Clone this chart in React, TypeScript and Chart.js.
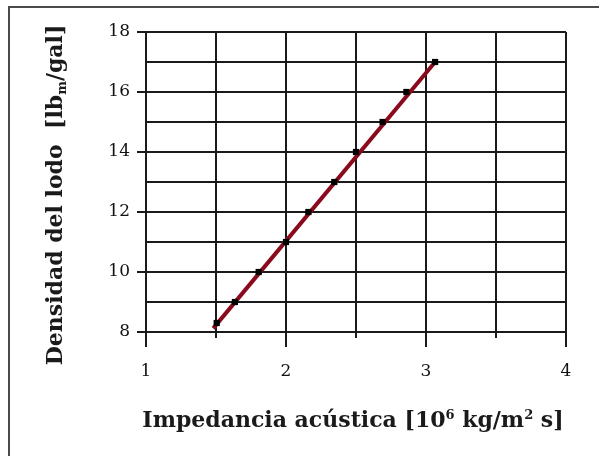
import React, { useEffect, useRef } from "react";
import { Chart, registerables } from "chart.js";

Chart.register(...registerables);

// Data
const impedance = [1.505, 1.635, 1.805, 2.0, 2.16, 2.345, 2.5, 2.69, 2.86, 3.065];
const density = [8.3, 9.0, 10.0, 11.0, 12.0, 13.0, 14.0, 15.0, 16.0, 17.0];
const fitImpedance = [1.48, 3.065];
const fitDensity = [8.12, 17.0];

const xMin = 1;
const xMax = 4;
const xStep = 0.5;
const yMin = 8;
const yMax = 18;
const yStep = 1;

const xTitleParts = [
  { t: "Impedancia acústica [10", sup: false },
  { t: "6", sup: true },
  { t: " kg/m", sup: false },
  { t: "2", sup: true },
  { t: " s]", sup: false },
];
const yTitleParts = [
  { t: "Densidad del lodo  [lb", sub: false },
  { t: "m", sub: true },
  { t: "/gal]", sub: false },
];

const GRID = "#1a1a1a";
const TITLE_FONT = "bold 22px 'DejaVu Serif'";
const SMALL_FONT = "bold 13px 'DejaVu Serif'";

const decorPlugin = {
  id: "decor",
  beforeDraw(chart: any) {
    const ctx = chart.ctx;
    ctx.save();
    ctx.fillStyle = "#ffffff";
    ctx.fillRect(0, 0, chart.width, chart.height);
    ctx.strokeStyle = "#4a4a4a";
    ctx.lineWidth = 2;
    ctx.strokeRect(9, 7, chart.width + 50, chart.height + 50);
    ctx.restore();
  },
  afterDraw(chart: any) {
    const ctx = chart.ctx;
    const xs = chart.scales.x;
    const area = chart.chartArea;
    ctx.save();
    // minor ticks on x axis
    ctx.strokeStyle = GRID;
    ctx.lineWidth = 2;
    xs.ticks.forEach((tk: any) => {
      if (!Number.isInteger(tk.value)) {
        const px = Math.round(xs.getPixelForValue(tk.value));
        ctx.beginPath();
        ctx.moveTo(px, area.bottom);
        ctx.lineTo(px, area.bottom + 6);
        ctx.stroke();
      }
    });
    // x title
    ctx.fillStyle = "#1a1a1a";
    ctx.textBaseline = "alphabetic";
    const widthOf = (p: any) => {
      ctx.font = p.sup || p.sub ? SMALL_FONT : TITLE_FONT;
      return ctx.measureText(p.t).width;
    };
    let total = xTitleParts.reduce((s, p) => s + widthOf(p), 0);
    let cx = 353 - total / 2;
    const baseY = 427;
    xTitleParts.forEach((p) => {
      ctx.font = p.sup ? SMALL_FONT : TITLE_FONT;
      ctx.fillText(p.t, cx, p.sup ? baseY - 8 : baseY);
      cx += ctx.measureText(p.t).width;
    });
    // y title (rotated)
    total = yTitleParts.reduce((s, p) => s + widthOf(p), 0);
    ctx.translate(62, 195);
    ctx.rotate(-Math.PI / 2);
    let tx = -total / 2;
    yTitleParts.forEach((p) => {
      ctx.font = p.sub ? SMALL_FONT : TITLE_FONT;
      ctx.fillText(p.t, tx, p.sub ? 4 : 0);
      tx += ctx.measureText(p.t).width;
    });
    ctx.restore();
  },
};

export default function App() {
  const ref = useRef<HTMLCanvasElement>(null);

  useEffect(() => {
    if (!ref.current) return;
    const points = impedance.map((x, i) => ({ x, y: density[i] }));
    const fit = fitImpedance.map((x, i) => ({ x, y: fitDensity[i] }));
    const chart = new Chart(ref.current, {
      type: "scatter",
      data: {
        datasets: [
          {
            data: points,
            order: 0,
            pointStyle: "rect",
            pointRadius: 4.4,
            pointBackgroundColor: "#000000",
            pointBorderColor: "#000000",
            pointBorderWidth: 0,
            showLine: false,
          },
          {
            data: fit,
            order: 1,
            showLine: true,
            borderColor: "#8A0A1C",
            borderWidth: 4,
            pointRadius: 0,
            fill: false,
          },
        ],
      },
      options: {
        responsive: false,
        animation: false,
        events: [],
        layout: { padding: { left: 0, right: 33, top: 32, bottom: 0 } },
        plugins: { legend: { display: false }, tooltip: { enabled: false } },
        scales: {
          x: {
            type: "linear",
            min: xMin,
            max: xMax,
            afterFit: (s: any) => {
              s.height = 124;
            },
            ticks: {
              stepSize: xStep,
              autoSkip: false,
              maxRotation: 0,
              padding: 14,
              color: "#111111",
              font: { family: "'DejaVu Serif'", size: 17 },
              callback: (v: any) => (Number.isInteger(v) ? String(v) : ""),
            },
            grid: {
              color: GRID,
              lineWidth: 2,
              tickLength: 15,
              tickColor: (c: any) =>
                c.tick && Number.isInteger(c.tick.value) ? GRID : "rgba(0,0,0,0)",
            },
            border: { display: true, color: GRID, width: 2 },
          },
          y: {
            type: "linear",
            min: yMin,
            max: yMax,
            afterFit: (s: any) => {
              s.width = 146;
            },
            ticks: {
              stepSize: yStep,
              autoSkip: false,
              padding: 7,
              color: "#111111",
              font: { family: "'DejaVu Serif'", size: 17 },
              callback: (v: any) => (v % 2 === 0 ? String(v) : ""),
            },
            grid: {
              color: GRID,
              lineWidth: 2,
              tickLength: 9,
              tickColor: (c: any) =>
                c.tick && c.tick.value % 2 === 0 ? GRID : "rgba(0,0,0,0)",
            },
            border: { display: true, color: GRID, width: 2 },
          },
        },
      },
      plugins: [decorPlugin],
    });
    return () => chart.destroy();
  }, []);

  return (
    <div style={{ position: "fixed", left: 0, top: 0, width: 599, height: 456, background: "#fff" }}>
      <canvas ref={ref} width={599} height={456} style={{ width: 599, height: 456, display: "block" }} />
    </div>
  );
}
